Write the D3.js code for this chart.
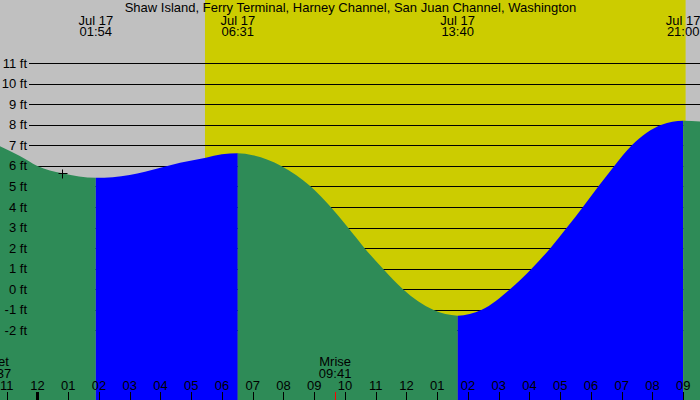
<!DOCTYPE html>
<html>
<head>
<meta charset="utf-8">
<script src="https://cdn.jsdelivr.net/npm/d3@7"></script>
<style>
  html, body { margin: 0; padding: 0; background: #c0c0c0; }
  svg { display: block; }
  text { font-family: "Liberation Sans", Arial, sans-serif; font-size: 13px; fill: #000; }
</style>
</head>
<body>
<svg id="chart" width="700" height="400"></svg>
<script>
// ---------------- data ----------------
const title = "Shaw Island, Ferry Terminal, Harney Channel, San Juan Channel, Washington";
// tide extremes (hours from midnight Jul 17)
const extremeHours  = [1.9, 6.517, 13.667, 21.0];
const extremeLabels = ["01:54", "06:31", "13:40", "21:00"];
const extremeDate   = "Jul 17";
// tide curve (hours, feet)
const curveHours  = [-1.25, -0.57, 0, 0.81, 1.9, 3.0, 4.0, 4.64, 5.48, 6.0, 6.517, 7.0, 7.93, 8.89, 9.54, 10.10, 10.64, 11.24, 11.89, 12.87, 13.667, 14.45, 15.37, 16.07, 16.68, 17.22, 17.74, 18.24, 18.76, 19.33, 20.30, 21.0, 21.6];
const curveLevels = [6.98, 6.48, 6.0, 5.64, 5.42, 5.56, 5.91, 6.15, 6.40, 6.56, 6.61, 6.52, 6.0, 5.0, 4.0, 3.0, 2.0, 1.0, 0.0, -1.0, -1.28, -1.0, 0.0, 1.0, 2.0, 3.0, 4.0, 5.0, 6.0, 7.0, 8.0, 8.2, 8.15];
// sun
const sunriseHour = 5.45, sunsetHour = 21.08;
// moon events
const moonHours  = [-1.383, 9.683];
const moonNames  = ["Mset", "Mrise"];
const moonTimes  = ["22:37", "09:41"];
// marker
const markerHour = 0.81, markerLevel = 5.64;
// axes
const yTicks = [-2, -1, 0, 1, 2, 3, 4, 5, 6, 7, 8, 9, 10, 11];
const hourTicks  = [-1, 0, 1, 2, 3, 4, 5, 6, 7, 8, 9, 10, 11, 12, 13, 14, 15, 16, 17, 18, 19, 20, 21];
const hourLabels = ["11","12","01","02","03","04","05","06","07","08","09","10","11","12","01","02","03","04","05","06","07","08","09"];

// ---------------- drawing ----------------
const W = 700, H = 400;
const svg = d3.select("#chart");
const x = d3.scaleLinear().domain([-1.216, 21.548]).range([0, W]);
const y = d3.scaleLinear().domain([-2, 11]).range([330.44, 63.03]);

const GRAY = "#c0c0c0", YELLOW = "#cccc00", GREEN = "#2e8b57", BLUE = "#0000ff";

svg.append("rect").attr("width", W).attr("height", H).attr("fill", GRAY);
svg.append("rect")
  .attr("x", x(sunriseHour)).attr("y", 0)
  .attr("width", x(sunsetHour) - x(sunriseHour)).attr("height", H)
  .attr("fill", YELLOW);

// grid lines
svg.append("g").selectAll("line").data(yTicks).join("line")
  .attr("x1", 29).attr("x2", W)
  .attr("y1", d => Math.round(y(d)) + 0.5).attr("y2", d => Math.round(y(d)) + 0.5)
  .attr("stroke", "#000").attr("stroke-width", 1);

// tide areas
const pts = curveHours.map((h, i) => [h, curveLevels[i]]);
const bounds = [-Infinity, ...extremeHours, Infinity];
const area = d3.area().x(d => x(d[0])).y0(H).y1(d => y(d[1])).curve(d3.curveMonotoneX);
const defs = svg.append("defs");
for (let s = 0; s < bounds.length - 1; s++) {
  const a = Math.max(bounds[s], -5), b = Math.min(bounds[s + 1], 30);
  const id = "clip" + s;
  defs.append("clipPath").attr("id", id).append("rect")
    .attr("x", x(a)).attr("y", 0).attr("width", x(b) - x(a)).attr("height", H);
  const lvlA = s === 0 ? curveLevels[0] : curveLevels[curveHours.indexOf(bounds[s])];
  const lvlB = s === bounds.length - 2 ? curveLevels[curveLevels.length - 1] : curveLevels[curveHours.indexOf(bounds[s + 1])];
  svg.append("path").datum(pts)
    .attr("d", area)
    .attr("clip-path", `url(#${id})`)
    .attr("fill", lvlB > lvlA ? BLUE : GREEN);
}

// y labels
svg.append("g").selectAll("text").data(yTicks).join("text")
  .attr("x", 27).attr("y", d => y(d) + 4.5)
  .attr("text-anchor", "end")
  .text(d => d + " ft");

// title
svg.append("text").attr("x", 350.5).attr("y", 12).attr("text-anchor", "middle").text(title);

// extreme labels
const ex = svg.append("g").selectAll("g").data(extremeHours).join("g");
ex.append("text").attr("x", d => x(d)).attr("y", 24.5).attr("text-anchor", "middle").text(extremeDate);
ex.append("text").attr("x", d => x(d)).attr("y", 36).attr("text-anchor", "middle").text((d, i) => extremeLabels[i]);

// bottom hour ticks
svg.append("g").selectAll("line").data(hourTicks).join("line")
  .attr("x1", d => Math.round(x(d)) + 0.5).attr("x2", d => Math.round(x(d)) + 0.5)
  .attr("y1", 392).attr("y2", H)
  .attr("stroke", "#000").attr("stroke-width", d => d === 0 ? 3 : 1);
svg.append("g").selectAll("text").data(hourTicks).join("text")
  .attr("x", d => x(d)).attr("y", 390).attr("text-anchor", "middle")
  .text((d, i) => hourLabels[i]);

// moon events
const mg = svg.append("g").selectAll("g").data(moonHours).join("g");
mg.append("line")
  .attr("x1", d => Math.round(x(d)) + 0.5).attr("x2", d => Math.round(x(d)) + 0.5)
  .attr("y1", 392).attr("y2", H).attr("stroke", "#ff0000");
mg.append("text").attr("x", d => x(d)).attr("y", 366).attr("text-anchor", "middle").text((d, i) => moonNames[i]);
mg.append("text").attr("x", d => x(d)).attr("y", 378).attr("text-anchor", "middle").text((d, i) => moonTimes[i]);

// marker
const mx = Math.round(x(markerHour)) + 0.5, my = Math.round(y(markerLevel)) + 0.5;
svg.append("path").attr("d", `M${mx - 4},${my}H${mx + 5}M${mx},${my - 4}V${my + 5}`)
  .attr("stroke", "#000").attr("stroke-width", 1).attr("fill", "none");
</script>
</body>
</html>
